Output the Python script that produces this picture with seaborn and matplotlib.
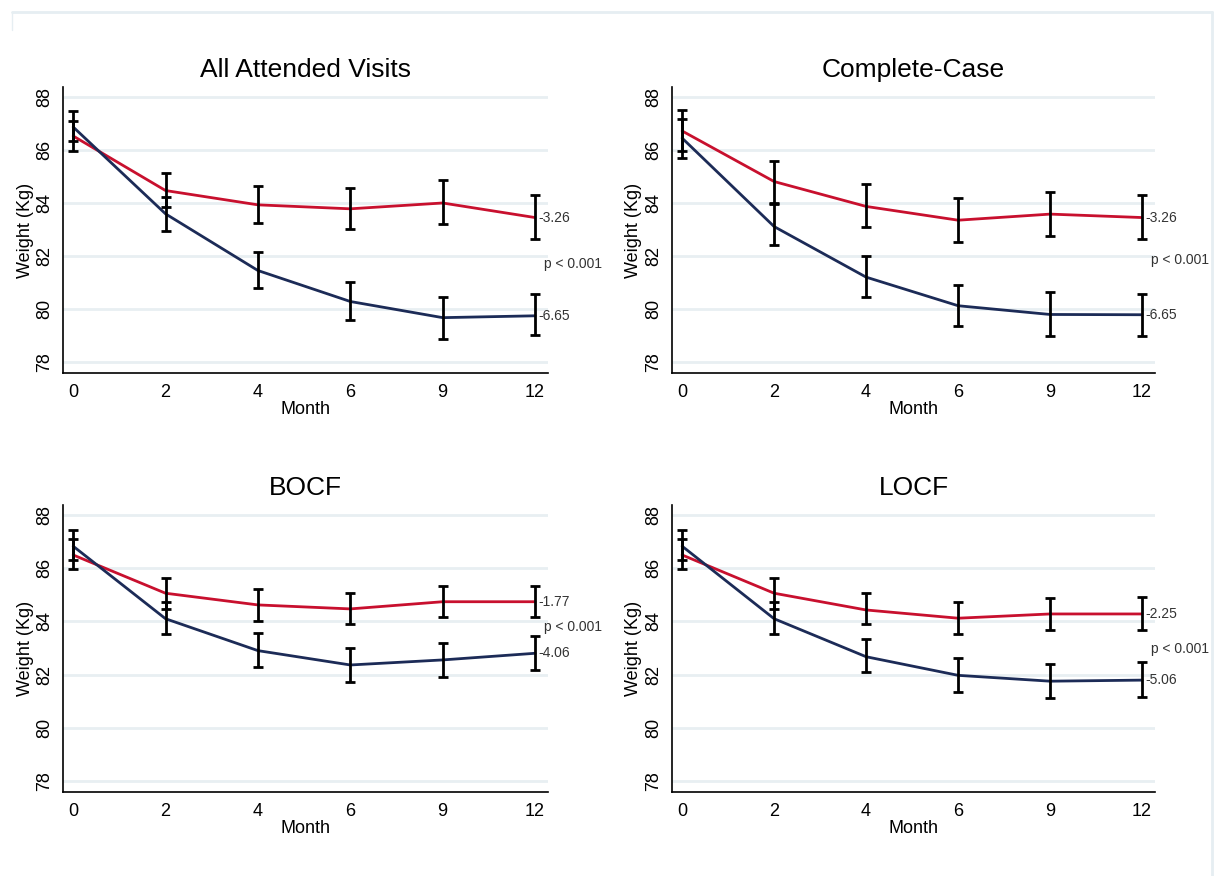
import numpy as np
import pandas as pd
import seaborn as sns
import matplotlib
matplotlib.use("Agg")
import matplotlib.pyplot as plt
from matplotlib.lines import Line2D

# ---------------- data ----------------
months = ["0", "2", "4", "6", "9", "12"]
panels = ["All Attended Visits", "Complete-Case", "BOCF", "LOCF"]

aav_red = [86.53, 84.47, 83.93, 83.78, 84.00, 83.45]
aav_red_lo = [85.97, 83.85, 83.25, 83.00, 83.21, 82.63]
aav_red_hi = [87.10, 85.14, 84.66, 84.57, 84.85, 84.31]
aav_blue = [86.87, 83.59, 81.45, 80.28, 79.67, 79.74]
aav_blue_lo = [86.33, 82.96, 80.78, 79.60, 78.88, 79.00]
aav_blue_hi = [87.46, 84.22, 82.14, 81.02, 80.44, 80.58]

cc_red = [86.72, 84.81, 83.87, 83.35, 83.58, 83.45]
cc_red_lo = [85.96, 84.00, 83.08, 82.51, 82.74, 82.63]
cc_red_hi = [87.53, 85.60, 84.71, 84.17, 84.42, 84.31]
cc_blue = [86.45, 83.11, 81.20, 80.12, 79.79, 79.78]
cc_blue_lo = [85.70, 82.40, 80.46, 79.35, 78.98, 78.98]
cc_blue_hi = [87.18, 83.95, 81.98, 80.91, 80.63, 80.58]

bocf_red = [86.50, 85.06, 84.62, 84.47, 84.74, 84.74]
bocf_red_lo = [85.96, 84.47, 84.03, 83.90, 84.18, 84.18]
bocf_red_hi = [87.10, 85.64, 85.22, 85.07, 85.34, 85.34]
bocf_blue = [86.83, 84.10, 82.90, 82.36, 82.55, 82.80]
bocf_blue_lo = [86.30, 83.54, 82.29, 81.72, 81.92, 82.17]
bocf_blue_hi = [87.45, 84.74, 83.55, 82.99, 83.20, 83.45]

locf_red = [86.50, 85.06, 84.43, 84.12, 84.28, 84.28]
locf_red_lo = [85.96, 84.47, 83.89, 83.53, 83.68, 83.68]
locf_red_hi = [87.10, 85.64, 85.08, 84.72, 84.87, 84.90]
locf_blue = [86.83, 84.10, 82.67, 81.97, 81.75, 81.79]
locf_blue_lo = [86.30, 83.54, 82.10, 81.36, 81.10, 81.17]
locf_blue_hi = [87.45, 84.74, 83.35, 82.64, 82.39, 82.46]

red_labels = ["-3.26", "-3.26", "-1.77", "-2.25"]
blue_labels = ["-6.65", "-6.65", "-4.06", "-5.06"]
p_label = "p < 0.001"
p_y = [81.70, 81.83, 83.80, 82.96]

yticks = [78, 80, 82, 84, 86, 88]

series = [
    (aav_red, aav_red_lo, aav_red_hi, aav_blue, aav_blue_lo, aav_blue_hi),
    (cc_red, cc_red_lo, cc_red_hi, cc_blue, cc_blue_lo, cc_blue_hi),
    (bocf_red, bocf_red_lo, bocf_red_hi, bocf_blue, bocf_blue_lo, bocf_blue_hi),
    (locf_red, locf_red_lo, locf_red_hi, locf_blue, locf_blue_lo, locf_blue_hi),
]

# ---------------- style ----------------
sns.set_style("white")
plt.rcParams["font.family"] = ["Liberation Sans", "DejaVu Sans"]
plt.rcParams["text.color"] = "black"
plt.rcParams["axes.labelcolor"] = "black"
plt.rcParams["xtick.color"] = "black"
plt.rcParams["ytick.color"] = "black"

RED = "#C8102E"
NAVY = "#1C2B57"
GRID = "#E8EFF2"

W, H = 1215, 876
fig = plt.figure(figsize=(W / 100, H / 100), dpi=100)
fig.patch.set_facecolor("white")

# axes positions in pixels (left, top, right, bottom)
boxes = [
    (63, 87, 548, 373),
    (672, 87, 1155, 373),
    (63, 505, 548, 792),
    (672, 505, 1155, 792),
]

for i, (name, (r, rlo, rhi, b, blo, bhi)) in enumerate(zip(panels, series)):
    l, t, rr, bt = boxes[i]
    ax = fig.add_axes([l / W, 1 - bt / H, (rr - l) / W, (bt - t) / H])
    x = np.arange(len(months))
    df = pd.DataFrame({
        "pos": np.concatenate([x, x]),
        "weight": r + b,
        "group": ["red"] * len(x) + ["blue"] * len(x),
    })
    for y in yticks:
        ax.axhline(y, color=GRID, lw=2, zorder=0)
    sns.lineplot(data=df, x="pos", y="weight", hue="group",
                 palette={"red": RED, "blue": NAVY}, lw=2,
                 legend=False, ax=ax, zorder=2)
    r_arr, b_arr = np.array(r), np.array(b)
    ax.errorbar(x, r_arr, yerr=[r_arr - np.array(rlo), np.array(rhi) - r_arr],
                fmt="none", ecolor="black", elinewidth=2, capsize=3.3,
                capthick=2, zorder=3)
    ax.errorbar(x, b_arr, yerr=[b_arr - np.array(blo), np.array(bhi) - b_arr],
                fmt="none", ecolor="black", elinewidth=2, capsize=3.3,
                capthick=2, zorder=3)
    ax.text(5.04, r[-1], red_labels[i], fontsize=10, color="#333333",
            va="center", ha="left", clip_on=False)
    ax.text(5.04, b[-1], blue_labels[i], fontsize=10, color="#333333",
            va="center", ha="left", clip_on=False)
    ax.text(5.1, p_y[i], p_label, fontsize=10, color="#333333",
            va="center", ha="left", clip_on=False)

    ax.set_xlim(-0.11, 5.14)
    ax.set_ylim(77.58, 88.38)
    ax.set_xticks(x)
    ax.set_xticklabels(months)
    ax.set_yticks(yticks)
    ax.set_yticklabels([str(v) for v in yticks], rotation=90, va="center")
    ax.tick_params(axis="both", labelsize=13, length=5, width=1,
                   color="black", labelcolor="black", direction="out", pad=3)
    ax.tick_params(axis="y", pad=2)
    for s in ["top", "right"]:
        ax.spines[s].set_visible(False)
    for s in ["left", "bottom"]:
        ax.spines[s].set_color("black")
        ax.spines[s].set_linewidth(1.2)
    ax.set_xlabel("Month", fontsize=13, labelpad=0, color="black")
    ax.set_ylabel("Weight (Kg)", fontsize=13, labelpad=2, color="black")
    ax.set_title(name, fontsize=19, pad=7, color="black")
    ax.set_facecolor("white")

# faint outer frame
fig.add_artist(Line2D([12 / W, 1212 / W], [1 - 12 / H, 1 - 12 / H],
                      color="#E6EEF2", lw=2, transform=fig.transFigure))
fig.add_artist(Line2D([1212 / W, 1212 / W], [1 - 12 / H, 0],
                      color="#E6EEF2", lw=2, transform=fig.transFigure))
fig.add_artist(Line2D([12 / W, 12 / W], [1 - 12 / H, 1 - 30 / H],
                      color="#E6EEF2", lw=1, transform=fig.transFigure))

fig.savefig("out.png", dpi=100, facecolor="white")
